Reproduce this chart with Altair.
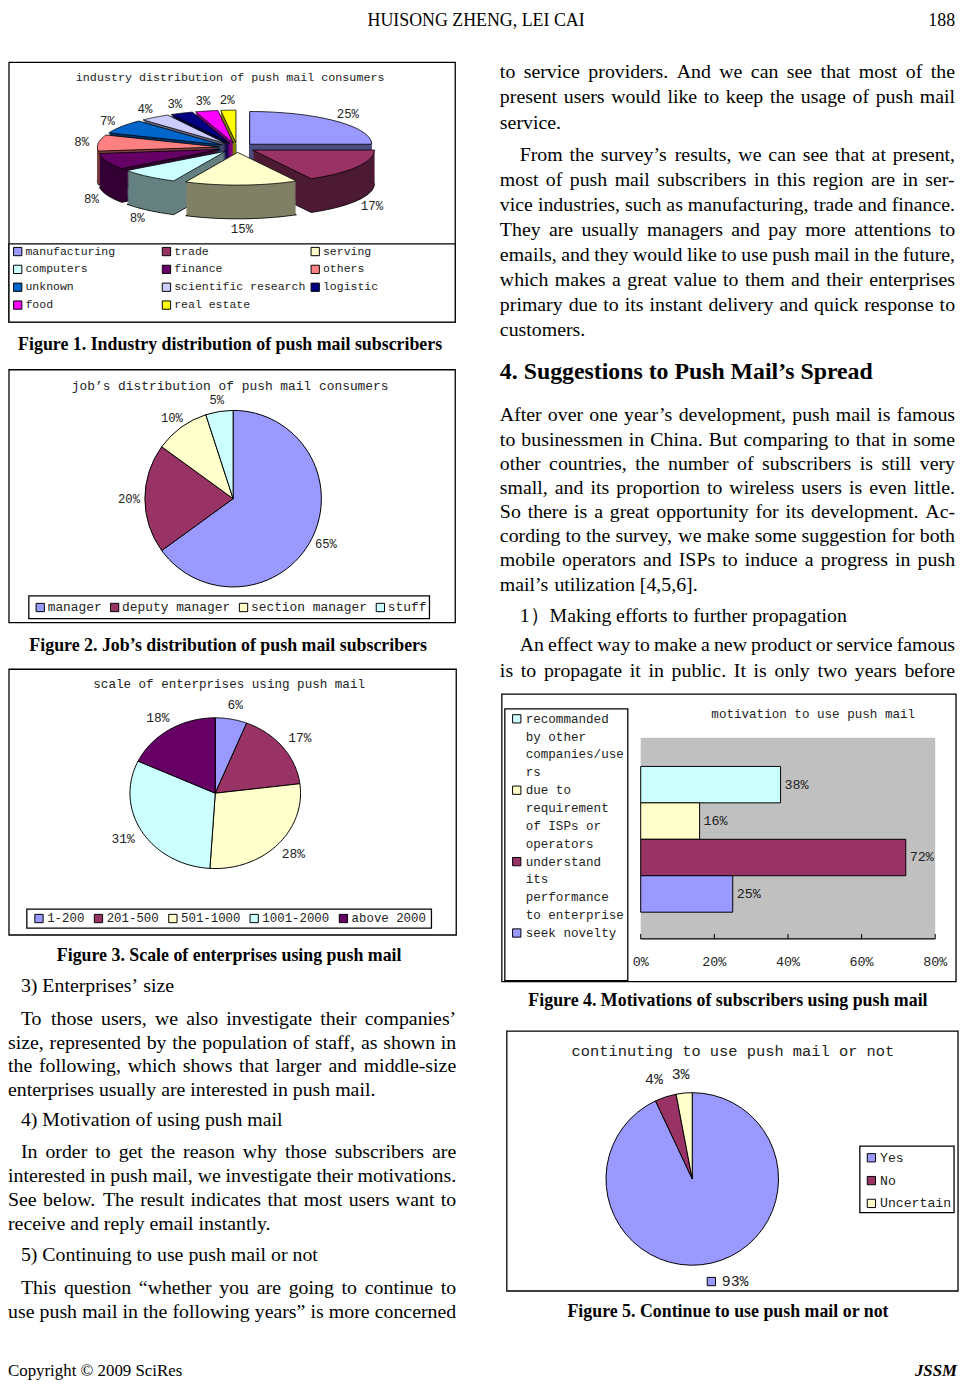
import altair as alt
import pandas as pd

# ------------------------------------------------------------------ data
industry_labels = ["manufacturing", "trade", "serving", "computers", "finance", "others",
                   "unknown", "scientific research", "logistic", "food", "real estate"]
industry_pct = [25, 17, 15, 8, 8, 8, 7, 4, 3, 3, 2]

job_labels = ["manager", "deputy manager", "section manager", "stuff"]
job_pct = [65, 20, 10, 5]

size_labels = ["1-200", "201-500", "501-1000", "1001-2000", "above 2000"]
size_pct = [6, 17, 28, 31, 18]

motive_labels = ["recommanded by other companies/users", "due to requirement of ISPs or operators",
                 "understand its performance to enterprise", "seek novelty"]
motive_pct = [38, 16, 72, 25]
motive_legend_lines = [["recommanded", "by other", "companies/use", "rs"],
                       ["due to", "requirement", "of ISPs or", "operators"],
                       ["understand", "its", "performance", "to enterprise"],
                       ["seek novelty"]]
motive_ticks = [0, 20, 40, 60, 80]

continue_labels = ["Yes", "No", "Uncertain"]
continue_pct = [93, 4, 3]

# ------------------------------------------------------------------ styles
industry_colors = ["#9999FF", "#993366", "#FFFFCC", "#CCFFFF", "#660066", "#FF8080",
                   "#0066CC", "#CCCCFF", "#000080", "#FF00FF", "#FFFF00"]
industry_side_colors = ["#4D4D80", "#4D1A33", "#808066", "#668080", "#330033", "#804040",
                        "#003366", "#666680", "#000040", "#800080", "#808000"]
job_colors = ["#9999FF", "#993366", "#FFFFCC", "#CCFFFF"]
size_colors = ["#9999FF", "#993366", "#FFFFCC", "#CCFFFF", "#660066"]
motive_colors = ["#CCFFFF", "#FFFFCC", "#993366", "#9999FF"]
continue_colors = ["#9999FF", "#993366", "#FFFFCC"]

SERIF = "Liberation Serif"
MONO = "Liberation Mono"
INK = "#222222"
M = 8                      # page margin: layout values below are page pixels
W, H = 961, 1378


def px(v):
    return v - M


# ------------------------------------------------------------------ text content
left_paras = [
    dict(lines=["3) Enterprises\u2019 size"], y0=988, ls=24, indent=True, jlast=False),
    dict(lines=["To those users, we also investigate their companies\u2019",
                "size, represented by the population of staff, as shown in",
                "the following, which shows that larger and middle-size",
                "enterprises usually are interested in push mail."],
         y0=1022, ls=23.8, indent=True, jlast=False),
    dict(lines=["4) Motivation of using push mail"], y0=1124, ls=24, indent=True, jlast=False),
    dict(lines=["In order to get the reason why those subscribers are",
                "interested in push mail, we investigate their motivations.",
                "See below. The result indicates that most users want to",
                "receive and reply email instantly."],
         y0=1156, ls=24.3, indent=True, jlast=False),
    dict(lines=["5) Continuing to use push mail or not"], y0=1260, ls=24, indent=True, jlast=False),
    dict(lines=["This question \u201cwhether you are going to continue to",
                "use push mail in the following years\u201d is more concerned"],
         y0=1293, ls=24, indent=True, jlast=True),
]
right_paras = [
    dict(lines=["to service providers. And we can see that most of the",
                "present users would like to keep the usage of push mail",
                "service."], y0=67, ls=25.5, indent=False, jlast=False),
    dict(lines=["From the survey\u2019s results, we can see that at present,",
                "most of push mail subscribers in this region are in ser-",
                "vice industries, such as manufacturing, trade and finance.",
                "They are usually managers and pay more attentions to",
                "emails, and they would like to use push mail in the future,",
                "which makes a great value to them and their enterprises",
                "primary due to its instant delivery and quick response to",
                "customers."], y0=150, ls=25.3, indent=True, jlast=False),
    dict(lines=["After over one year\u2019s development, push mail is famous",
                "to businessmen in China. But comparing to that in some",
                "other countries, the number of subscribers is still very",
                "small, and its proportion to wireless users is even little.",
                "So there is a great opportunity for its development. Ac-",
                "cording to the survey, we make some suggestion for both",
                "mobile operators and ISPs to induce a progress in push",
                "mail\u2019s utilization [4,5,6]."], y0=413, ls=24.4, indent=False, jlast=False),
    dict(lines=["1\uff09Making efforts to further propagation"], y0=615, ls=24, indent=True, jlast=False),
    dict(lines=["An effect way to make a new product or service famous",
                "is to propagate it in public. It is only two years before"],
         y0=645, ls=26, indent=True, jlast=True),
]

# Times-compatible advance widths (1/1000 em) used to justify lines
TW = {' ': 250, '!': 333, '"': 408, '%': 833, '&': 778, "'": 180, '(': 333, ')': 333, ',': 250,
      '-': 333, '.': 250, '/': 278, ':': 278, ';': 278, '?': 444, '[': 333, ']': 333,
      '\u2019': 333, '\u2018': 333, '\u201c': 444, '\u201d': 444, '\u00a9': 760, '\uff09': 1000}
for c in "0123456789":
    TW[c] = 500
for c, w in zip("ABCDEFGHIJKLMNOPQRSTUVWXYZ",
                [722, 667, 667, 722, 611, 556, 722, 722, 333, 389, 722, 611, 889, 722, 722, 556,
                 722, 667, 556, 611, 722, 722, 944, 722, 722, 611]):
    TW[c] = w
for c, w in zip("abcdefghijklmnopqrstuvwxyz",
                [444, 500, 444, 500, 444, 333, 500, 500, 278, 278, 500, 278, 778, 500, 500, 500,
                 500, 333, 389, 278, 500, 500, 722, 500, 500, 444]):
    TW[c] = w

BODY_FS = 20


def word_rows(paras, x_left, x_right, indent):
    rows = []
    for p in paras:
        n = len(p["lines"])
        for i, line in enumerate(p["lines"]):
            words = line.split(" ")
            x0 = x_left + (indent if (p["indent"] and i == 0) else 0)
            widths = [sum(TW.get(ch, 500) for ch in w) * BODY_FS / 1000 for w in words]
            justify = (i < n - 1) or p["jlast"]
            if justify and len(words) > 1:
                gap = (x_right - x0 - sum(widths)) / (len(words) - 1)
            else:
                gap = 0.25 * BODY_FS
            x = x0
            for w, wd in zip(words, widths):
                rows.append({"x": px(x), "y": px(p["y0"] + i * p["ls"]), "w": w})
                x += wd + gap
    return rows


body_rows = word_rows(left_paras, 8, 460, 13) + word_rows(right_paras, 504, 963, 20)

# ------------------------------------------------------------------ helpers
def sector_expr(rx, ry, n=40):
    parts = ["'M0,0'"]
    for k in range(n + 1):
        t = f"(datum.a0+(datum.a1-datum.a0)*{k / n:.4f})"
        parts.append(f"'L'+round({rx}*sin({t})*100)/100+','+round({-ry}*cos({t})*100)/100")
    parts.append("'Z'")
    return "+".join(parts)


def pie_df(labels, values):
    return pd.DataFrame({"label": labels, "pct": values, "idx": list(range(len(labels)))})


def ang(ch):
    return (ch.transform_window(cum="sum(pct)", sort=[alt.SortField("idx")], frame=[None, 0])
              .transform_joinaggregate(total="sum(pct)")
              .transform_calculate(a0="2*PI*(datum.cum-datum.pct)/datum.total",
                                   a1="2*PI*datum.cum/datum.total",
                                   mid="(datum.a0+datum.a1)/2",
                                   lbl="datum.pct+'%'"))


def legend(x, y, fs, **kw):
    return alt.Legend(title=None, orient="none", legendX=px(x), legendY=px(y),
                      symbolType="square", symbolSize=70, symbolStrokeColor="black",
                      symbolStrokeWidth=1, labelFont=MONO, labelFontSize=fs, labelColor=INK,
                      labelLimit=0, padding=0, **kw)


XP = alt.X("px:Q", scale=None, axis=None)
YP = alt.Y("py:Q", scale=None, axis=None)

# ------------------------------------------------------------------ frames
boxes = pd.DataFrame([
    dict(x0=9, y0=57, x1=459, y1=319, f="white"),
    dict(x0=9, y0=240, x1=459, y1=319, f="white"),
    dict(x0=9, y0=367, x1=459, y1=622, f="white"),
    dict(x0=29, y0=595, x1=433, y1=618, f="white"),
    dict(x0=9, y0=669, x1=460, y1=937, f="white"),
    dict(x0=27, y0=911, x1=435, y1=930, f="white"),
    dict(x0=506, y0=694, x1=964, y1=984, f="white"),
    dict(x0=509, y0=709, x1=633, y1=983, f="white"),
    dict(x0=511, y0=1034, x1=966, y1=1296, f="white"),
    dict(x0=867, y0=1150, x1=962, y1=1217, f="white"),
])
for c in ["x0", "y0", "x1", "y1"]:
    boxes[c] = boxes[c] - M
frames = alt.Chart(boxes).mark_rect(stroke="black", strokeWidth=1.3).encode(
    x=alt.X("x0:Q", scale=None, axis=None), x2="x1:Q",
    y=alt.Y("y0:Q", scale=None, axis=None), y2="y1:Q",
    fill=alt.Fill("f:N", scale=None, legend=None))

# ------------------------------------------------------------------ figure 1 (exploded 3D pie)
CX1, CY1, RX1, RY1, EX1, EY1, D1 = 239, 143, 123, 33, 18, 4.8, 34
df1 = pie_df(industry_labels, industry_pct)
f1_side = (ang(alt.Chart(df1))
           .transform_calculate(path=sector_expr(RX1, RY1), s=f"sequence(1,{D1 + 1})")
           .transform_flatten(["s"])
           .transform_calculate(px=f"{px(CX1)}+{EX1}*sin(datum.mid)",
                                py=f"{px(CY1)}-{EY1}*cos(datum.mid)+datum.s",
                                sw=f"datum.s=={D1}?0.9:0",
                                key=f"-10*cos(datum.mid)+(datum.s=={D1}?0:0.01)")
           .mark_point(filled=True, opacity=1, stroke="black")
           .encode(x=XP, y=YP, shape=alt.Shape("path:N", scale=None, legend=None),
                   size=alt.value(4),
                   strokeWidth=alt.StrokeWidth("sw:Q", scale=None, legend=None),
                   color=alt.Color("label:N", scale=alt.Scale(domain=industry_labels,
                                                              range=industry_side_colors), legend=None),
                   order=alt.Order("key:Q")))
f1_top = (ang(alt.Chart(df1))
          .transform_calculate(path=sector_expr(RX1, RY1),
                               px=f"{px(CX1)}+{EX1}*sin(datum.mid)",
                               py=f"{px(CY1)}-{EY1}*cos(datum.mid)",
                               key="-10*cos(datum.mid)")
          .mark_point(filled=True, opacity=1, stroke="black", strokeWidth=0.8)
          .encode(x=XP, y=YP, shape=alt.Shape("path:N", scale=None, legend=None),
                  size=alt.value(4),
                  color=alt.Color("label:N", scale=alt.Scale(domain=industry_labels, range=industry_colors),
                                  legend=legend(12, 242, 11.6, columns=3, direction="horizontal",
                                                gridAlign="all", columnPadding=3, rowPadding=5,
                                                labelOffset=2)),
                  order=alt.Order("key:Q")))
f1_lab = (ang(alt.Chart(df1))
          .transform_calculate(px=f"{px(CX1)}+158*sin(datum.mid)",
                               py=f"{px(CY1)}-48*cos(datum.mid)+(cos(datum.mid)<0?{D1}:0)")
          .mark_text(font=MONO, fontSize=12.5, color=INK, baseline="middle")
          .encode(x=XP, y=YP, text="lbl:N"))

# ------------------------------------------------------------------ figure 2
CX2, CY2, R2 = 235, 497, 89
df2 = pie_df(job_labels, job_pct)
f2_pie = alt.Chart(df2).mark_arc(radius=R2, stroke="black", strokeWidth=1).encode(
    theta=alt.Theta("pct:Q", stack=True), order=alt.Order("idx:Q"),
    x=alt.value(px(CX2)), y=alt.value(px(CY2)),
    color=alt.Color("label:N", scale=alt.Scale(domain=job_labels, range=job_colors),
                    legend=legend(34, 600, 13, columns=4, direction="horizontal",
                                  columnPadding=6, labelOffset=1)))
f2_lab = (ang(alt.Chart(df2))
          .transform_calculate(px=f"{px(CX2)}+105*sin(datum.mid)", py=f"{px(CY2)}-101*cos(datum.mid)")
          .mark_text(font=MONO, fontSize=12.3, color=INK, baseline="middle")
          .encode(x=XP, y=YP, text="lbl:N"))

# ------------------------------------------------------------------ figure 3 (slightly oval pie)
CX3, CY3, RX3, RY3 = 217, 794, 86, 76
df3 = pie_df(size_labels, size_pct)
f3_pie = (ang(alt.Chart(df3))
          .transform_calculate(path=sector_expr(RX3, RY3, 60), px=f"{px(CX3)}", py=f"{px(CY3)}")
          .mark_point(filled=True, opacity=1, stroke="black", strokeWidth=1)
          .encode(x=XP, y=YP, shape=alt.Shape("path:N", scale=None, legend=None), size=alt.value(4),
                  color=alt.Color("label:N", scale=alt.Scale(domain=size_labels, range=size_colors),
                                  legend=legend(33, 914, 12.5, columns=5, direction="horizontal",
                                                columnPadding=7, labelOffset=2))))
f3_lab = (ang(alt.Chart(df3))
          .transform_calculate(px=f"{px(CX3)}+108*sin(datum.mid)", py=f"{px(CY3)}-90*cos(datum.mid)")
          .mark_text(font=MONO, fontSize=13, color=INK, baseline="middle")
          .encode(x=XP, y=YP, text="lbl:N"))

# ------------------------------------------------------------------ figure 4 (horizontal bars)
df4 = pd.DataFrame({"label": motive_labels, "pct": motive_pct})
xs4 = alt.Scale(domain=[motive_ticks[0], motive_ticks[-1]], range=[px(646), px(943)], nice=False, zero=True)
ys4 = alt.Scale(domain=motive_labels, range=[px(767), px(914)], paddingInner=0, paddingOuter=0)
col4 = alt.Scale(domain=motive_labels, range=motive_colors)
ext4 = pd.DataFrame({"t0": [motive_ticks[0]], "t1": [motive_ticks[-1]]})
ticks4 = pd.DataFrame({"t": motive_ticks})
f4_bg = alt.Chart(ext4).mark_rect(fill="#C0C0C0").encode(
    x=alt.X("t0:Q", scale=xs4, axis=None), x2="t1:Q", y=alt.value(px(738)), y2=alt.value(px(941)))
f4_bars = alt.Chart(df4).mark_bar(stroke="black", strokeWidth=1).encode(
    x=alt.X("pct:Q", scale=xs4, axis=None), y=alt.Y("label:N", scale=ys4, axis=None),
    color=alt.Color("label:N", scale=col4, legend=None))
f4_vals = alt.Chart(df4).transform_calculate(lbl="datum.pct+'%'").mark_text(
    font=MONO, fontSize=13.5, color=INK, align="left", dx=4, baseline="middle").encode(
    x=alt.X("pct:Q", scale=xs4, axis=None), y=alt.Y("label:N", scale=ys4, axis=None), text="lbl:N")
f4_axis = alt.Chart(ext4).mark_rule(color="black", strokeWidth=1.2).encode(
    x=alt.X("t0:Q", scale=xs4, axis=None), x2="t1:Q", y=alt.value(px(941)))
f4_ticks = alt.Chart(ticks4).mark_rule(color="black", strokeWidth=1).encode(
    x=alt.X("t:Q", scale=xs4, axis=None), y=alt.value(px(936)), y2=alt.value(px(941)))
f4_tlab = alt.Chart(ticks4).transform_calculate(lbl="datum.t+'%'").mark_text(
    font=MONO, fontSize=13.5, color=INK, baseline="middle").encode(
    x=alt.X("t:Q", scale=xs4, axis=None), y=alt.value(px(964)), text="lbl:N")
leg_rows = []
ln = 0
for lab, lines in zip(motive_labels, motive_legend_lines):
    for j, t in enumerate(lines):
        leg_rows.append({"label": lab, "t": t, "first": j == 0, "py": px(719) + 18 * ln})
        ln += 1
leg4 = pd.DataFrame(leg_rows)
f4_legsym = alt.Chart(leg4).transform_filter("datum.first").mark_point(
    shape="square", filled=True, opacity=1, size=70, stroke="black", strokeWidth=1).encode(
    x=alt.value(px(521)), y=YP, color=alt.Color("label:N", scale=col4, legend=None))
f4_legtxt = alt.Chart(leg4).mark_text(font=MONO, fontSize=12.7, color=INK, align="left",
                                      baseline="middle").encode(x=alt.value(px(530)), y=YP, text="t:N")

# ------------------------------------------------------------------ figure 5
CX5, CY5, R5 = 698, 1183, 87
df5 = pie_df(continue_labels, continue_pct)
f5_pie = alt.Chart(df5).mark_arc(radius=R5, stroke="black", strokeWidth=1).encode(
    theta=alt.Theta("pct:Q", stack=True), order=alt.Order("idx:Q"),
    x=alt.value(px(CX5)), y=alt.value(px(CY5)),
    color=alt.Color("label:N", scale=alt.Scale(domain=continue_labels, range=continue_colors),
                    legend=legend(872, 1155, 13.3, columns=1, rowPadding=9, labelOffset=2)))
f5_base = (ang(alt.Chart(df5))
           .transform_calculate(px=f"{px(CX5)}+125*sin(datum.mid)+(datum.pct>50?16:0)",
                                py=f"{px(CY5)}-106*cos(datum.mid)"))
f5_lab = f5_base.mark_text(font=MONO, fontSize=15, color=INK, baseline="middle").encode(
    x=XP, y=YP, text="lbl:N")
f5_key = f5_base.transform_filter("datum.pct>50").transform_calculate(kx="datum.px-24").mark_point(
    shape="square", filled=True, opacity=1, size=70, stroke="black", strokeWidth=1).encode(
    x=alt.X("kx:Q", scale=None, axis=None), y=YP,
    color=alt.Color("label:N", scale=alt.Scale(domain=continue_labels, range=continue_colors), legend=None))

# ------------------------------------------------------------------ texts
titles = pd.DataFrame([
    dict(px=px(232), py=px(72), t="industry distribution of push mail consumers", fs=11.8),
    dict(px=px(232), py=px(383), t="job\u2019s distribution of push mail consumers", fs=13),
    dict(px=px(231), py=px(684), t="scale of enterprises using push mail", fs=12.7),
    dict(px=px(820), py=px(714), t="motivation to use push mail", fs=12.7),
    dict(px=px(739), py=px(1054), t="continuting to use push mail or not", fs=15.5),
])
chart_titles = alt.Chart(titles).mark_text(font=MONO, color=INK, baseline="middle").encode(
    x=XP, y=YP, text="t:N", size=alt.Size("fs:Q", scale=None, legend=None))

caps = pd.DataFrame([
    dict(px=px(232), py=px(342), t="Figure 1. Industry distribution of push mail subscribers"),
    dict(px=px(230), py=px(646), t="Figure 2. Job\u2019s distribution of push mail subscribers"),
    dict(px=px(231), py=px(958), t="Figure 3. Scale of enterprises using push mail"),
    dict(px=px(734), py=px(1004), t="Figure 4. Motivations of subscribers using push mail"),
    dict(px=px(734), py=px(1317), t="Figure 5. Continue to use push mail or not"),
])
captions = alt.Chart(caps).mark_text(font=SERIF, fontWeight="bold", fontSize=18, color="black",
                                     baseline="middle").encode(x=XP, y=YP, text="t:N")
heading = alt.Chart(pd.DataFrame([dict(px=px(504), py=px(369), t="4. Suggestions to Push Mail\u2019s Spread")])
                    ).mark_text(font=SERIF, fontWeight="bold", fontSize=24, color="black", align="left",
                                baseline="middle").encode(x=XP, y=YP, text="t:N")
body = alt.Chart(pd.DataFrame(body_rows)).mark_text(
    font=SERIF, fontSize=BODY_FS, color="black", align="left", baseline="middle").encode(
    x=alt.X("x:Q", scale=None, axis=None), y=alt.Y("y:Q", scale=None, axis=None), text="w:N")

header = alt.Chart(pd.DataFrame([dict(px=px(480), py=px(15), t="HUISONG ZHENG, LEI CAI")])).mark_text(
    font=SERIF, fontSize=18, color="black", baseline="middle").encode(x=XP, y=YP, text="t:N")
header_r = alt.Chart(pd.DataFrame([dict(px=px(963), py=px(15), t="188")])).mark_text(
    font=SERIF, fontSize=18, color="black", baseline="middle", align="right").encode(x=XP, y=YP, text="t:N")
footer_l = alt.Chart(pd.DataFrame([dict(px=px(8), py=px(1377), t="Copyright \u00a9 2009 SciRes")])).mark_text(
    font=SERIF, fontSize=17, color="black", baseline="middle", align="left").encode(x=XP, y=YP, text="t:N")
footer_r = alt.Chart(pd.DataFrame([dict(px=px(965), py=px(1377), t="JSSM")])).mark_text(
    font=SERIF, fontSize=17, color="black", baseline="middle", align="right", fontStyle="italic",
    fontWeight="bold").encode(x=XP, y=YP, text="t:N")

chart = alt.layer(
    frames,
    f1_side, f1_top, f1_lab,
    f2_pie, f2_lab,
    f3_pie, f3_lab,
    f4_bg, f4_bars, f4_vals, f4_axis, f4_ticks, f4_tlab, f4_legsym, f4_legtxt,
    f5_pie, f5_lab, f5_key,
    chart_titles, captions, heading, body, header, header_r, footer_l, footer_r,
).resolve_scale(
    x="independent", y="independent", color="independent", theta="independent",
    shape="independent", size="independent", strokeWidth="independent", fill="independent",
).properties(
    width=W, height=H, autosize=alt.AutoSizeParams(type="none"), padding=0, background="white"
).configure_view(strokeWidth=0)

chart.save("out.html", embed_options={"renderer": "svg", "actions": False})
